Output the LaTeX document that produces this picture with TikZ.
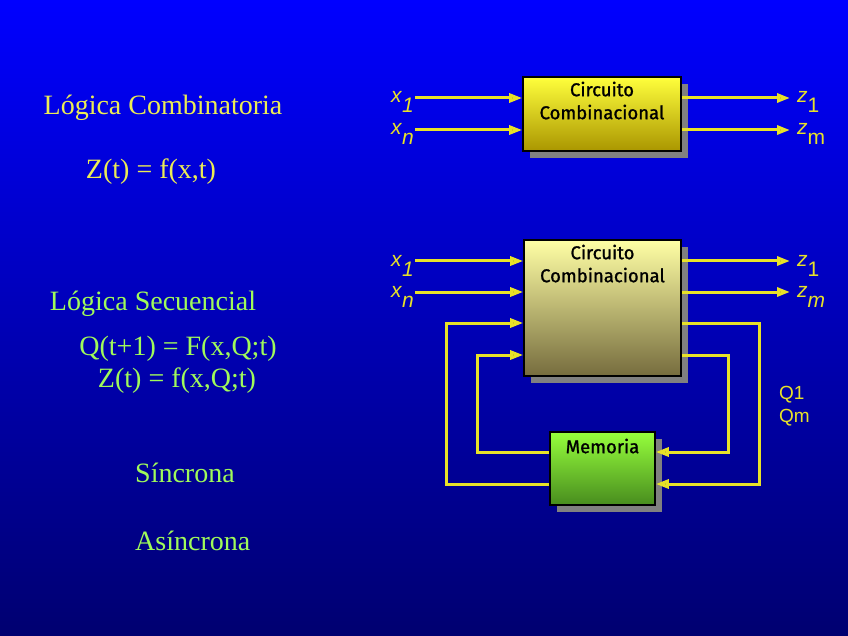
\documentclass[tikz,border=0pt]{standalone}
\usepackage{fontspec}
\usepackage{tikz}
\usetikzlibrary{arrows.meta,positioning,calc,shadows}
\setmainfont{Liberation Serif}
\newfontfamily\boxfont[FakeBold=1.2]{Fira Sans}
\newfontfamily\sigfont{Liberation Sans}
\definecolor{wirey}{RGB}{232,226,40}
\definecolor{texty}{RGB}{236,236,84}
\definecolor{textg}{RGB}{160,250,90}
\definecolor{bgtop}{RGB}{0,0,255}
\definecolor{bgmid}{RGB}{0,0,215}
\definecolor{bgbot}{RGB}{0,0,112}
\newcommand{\sig}[2]{\textit{#1}\raisebox{-10pt}{#2}}

\begin{document}
\begin{tikzpicture}[x=1pt,y=-1pt,>={Triangle[length=13pt,width=9pt,fill=black!55!wirey]},
  wire/.style={draw=wirey,line width=3pt},
  blockbox/.style={draw=black,line width=1.6pt,drop shadow={opacity=1,fill=gray,shadow xshift=7pt,shadow yshift=-7pt}},
  blocktext/.style={font=\boxfont\fontsize{18.5}{23}\selectfont,align=center,text=black},
  sigl/.style={font=\sigfont\fontsize{21}{21}\selectfont,text=wirey,inner sep=0pt},
  slide/.style={font=\fontsize{28}{30}\selectfont,inner sep=0pt}]
\useasboundingbox (0,0) rectangle (848,636);
\shade[top color=bgtop,middle color=bgmid,bottom color=bgbot] (0,0) rectangle (848,636);

% textos
\node[slide,text=texty] (comb) at (163,108) {Lógica Combinatoria};
\node[slide,text=texty] (zcomb) at (151,172) {Z(t) = f(x,t)};
\node[slide,text=textg] (sec) at (153,304) {Lógica Secuencial};
\node[slide,text=textg] (qsec) at (178,349) {Q(t+1) = F(x,Q;t)};
\node[slide,text=textg] (zsec) at (177,381) {Z(t) = f(x,Q;t)};
\node[slide,text=textg,anchor=west] (sinc) at (135,473) {Síncrona};
\node[slide,text=textg,anchor=west] (asinc) at (135,541) {Asíncrona};

% circuito combinacional
\node[blockbox,top color={rgb,255:red,255;green,255;blue,60},bottom color={rgb,255:red,170;green,150;blue,0},minimum width=158pt,minimum height=74pt] (cc1) at (602,114) {};
\node[blocktext,below=2pt of cc1.north] (cc1t) {Circuito\\Combinacional};
\coordinate (a1) at (415,98);
\coordinate (a2) at (415,130);
\coordinate (b1) at (790,98);
\coordinate (b2) at (790,130);
\draw[wire,->] (a1) -- (a1 -| cc1.west);
\draw[wire,->] (a2) -- (a2 -| cc1.west);
\draw[wire,->] (b1 -| cc1.east) -- (b1);
\draw[wire,->] (b2 -| cc1.east) -- (b2);
\node[sigl,anchor=base east] (x1a) at ([xshift=-1pt,yshift=-5pt]a1) {\sig{x}{\textit{1}}};
\node[sigl,anchor=base east] (xna) at ([xshift=-1pt,yshift=-5pt]a2) {\sig{x}{\textit{n}}};
\node[sigl,anchor=base west] (z1a) at ([xshift=7pt,yshift=-5pt]b1) {\sig{z}{1}};
\node[sigl,anchor=base west] (zma) at ([xshift=7pt,yshift=-5pt]b2) {\sig{z}{m}};

% secuencial
\node[blockbox,top color={rgb,255:red,255;green,255;blue,165},bottom color={rgb,255:red,118;green,108;blue,62},minimum width=157pt,minimum height=136pt] (cc2) at (602.5,308) {};
\node[blocktext,below=2pt of cc2.north] (cc2t) {Circuito\\Combinacional};
\node[blockbox,top color={rgb,255:red,150;green,255;blue,60},bottom color={rgb,255:red,72;green,140;blue,30},minimum width=105pt,minimum height=73pt] (mem) at (602.5,468.5) {};
\node[blocktext,below=4pt of mem.north] (memt) {Memoria};
\coordinate (c1) at (415,261);
\coordinate (c2) at (415,292);
\coordinate (d1) at (790,261);
\coordinate (d2) at (790,292);
\coordinate (qa) at (446,323);
\coordinate (qb) at (477,355);
\coordinate (ra) at (759,323);
\coordinate (rb) at (728,355);
\coordinate (ma) at (0,484);
\coordinate (mb) at (0,452);
\draw[wire,->] (c1) -- (c1 -| cc2.west);
\draw[wire,->] (c2) -- (c2 -| cc2.west);
\draw[wire,->] (d1 -| cc2.east) -- (d1);
\draw[wire,->] (d2 -| cc2.east) -- (d2);
\draw[wire,->] (mem.west |- ma) -| (qa) -- (qa -| cc2.west);
\draw[wire,->] (mem.west |- mb) -| (qb) -- (qb -| cc2.west);
\draw[wire,->] (ra -| cc2.east) -- (ra) |- (mem.east |- ma);
\draw[wire,->] (rb -| cc2.east) -- (rb) |- (mem.east |- mb);
\node[sigl,anchor=base east] (x1b) at ([xshift=-1pt,yshift=-5pt]c1) {\sig{x}{\textit{1}}};
\node[sigl,anchor=base east] (xnb) at ([xshift=-1pt,yshift=-5pt]c2) {\sig{x}{\textit{n}}};
\node[sigl,anchor=base west] (z1b) at ([xshift=7pt,yshift=-5pt]d1) {\sig{z}{1}};
\node[sigl,anchor=base west] (zmb) at ([xshift=7pt,yshift=-5pt]d2) {\sig{z}{\textit{m}}};
\node[sigl,font=\sigfont\fontsize{19}{23}\selectfont,align=left,anchor=north west] (qlab) at (779,386) {Q1\\Qm};
\end{tikzpicture}
\end{document}
